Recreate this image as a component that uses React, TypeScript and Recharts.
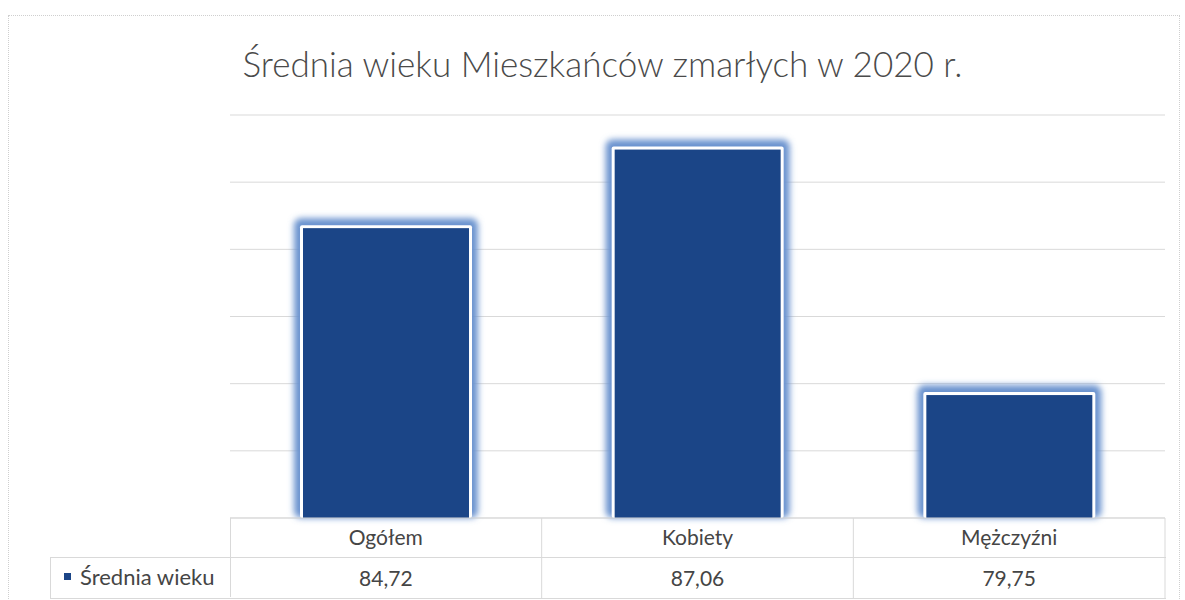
import { Bar, BarChart, CartesianGrid, XAxis, YAxis } from "recharts";

const categories = ["Ogółem", "Kobiety", "Mężczyźni"];
const values = [84.72, 87.06, 79.75];
const valueLabels = ["84,72", "87,06", "79,75"];
const yTicks = [76, 78, 80, 82, 84, 86, 88];
const seriesName = "Średnia wieku";
const title = "Średnia wieku Mieszkańców zmarłych w 2020 r.";

const data = categories.map((name, i) => ({ name, value: values[i] }));

const BAR_BLUE = "#1b4587";
const GRID = "#d9d9d9";
const TEXT = "#454545";
const FONT = "Lato, 'Open Sans', sans-serif";

// White-edged bar with a soft blue halo, like the Office "glow" effect.
function GlowBar(props: any) {
  const { x, y, width, height, index } = props;
  const id = `glow-${index}`;
  return (
    <g>
      <defs>
        <filter id={id} x="-20%" y="-20%" width="140%" height="140%">
          <feGaussianBlur stdDeviation="3" />
        </filter>
      </defs>
      <rect
        x={x - 6}
        y={y - 7}
        width={width + 12}
        height={height + 7}
        rx={7}
        fill="#6a93cf"
        filter={`url(#${id})`}
      />
      <rect x={x} y={y} width={width} height={height} fill="#ffffff" rx={2} />
      <rect x={x + 3} y={y + 3} width={width - 6} height={height - 3} fill={BAR_BLUE} />
    </g>
  );
}

// Data-table cell under each category: name in the header row, value below.
function TableTick(props: any) {
  const { x, y, payload, index } = props;
  const band = 935 / categories.length;
  return (
    <g>
      <line x1={x + band / 2} y1={518} x2={x + band / 2} y2={598} stroke={GRID} />
      <text x={x} y={545} textAnchor="middle" fontSize={21} fill={TEXT} fontFamily={FONT}>
        {payload.value}
      </text>
      <text x={x} y={586} textAnchor="middle" fontSize={21} fill={TEXT} fontFamily={FONT}>
        {valueLabels[index]}
      </text>
    </g>
  );
}

export default function App() {
  return (
    <div
      style={{
        position: "absolute",
        left: 0,
        top: 0,
        width: 1185,
        height: 600,
        background: "#fff",
        overflow: "hidden",
      }}
    >
      <div
        style={{
          position: "absolute",
          left: 8,
          top: 15,
          width: 1170,
          height: 600,
          border: "1px dotted #cfcfcf",
        }}
      />
      <div
        style={{
          position: "absolute",
          left: 0,
          top: 42,
          width: 1205,
          textAlign: "center",
          fontFamily: FONT,
          fontWeight: 300,
          fontSize: 35,
          color: "#4a4a4a",
        }}
      >
        {title}
      </div>
      <BarChart
        width={1185}
        height={600}
        data={data}
        margin={{ top: 115, right: 20, bottom: 2, left: 230 }}
        style={{ position: "absolute", left: 0, top: 0 }}
      >
        <CartesianGrid horizontal vertical={false} stroke={GRID} />
        <YAxis hide width={0} domain={[76, 88]} ticks={yTicks} />
        <XAxis
          dataKey="name"
          height={80}
          tickLine={false}
          axisLine={{ stroke: GRID }}
          tick={<TableTick />}
          interval={0}
        />
        <Bar
          dataKey="value"
          name={seriesName}
          barSize={172}
          shape={<GlowBar />}
          isAnimationActive={false}
        />
      </BarChart>
      {/* left border of the header row */}
      <div style={{ position: "absolute", left: 230, top: 518, width: 1, height: 40, background: GRID }} />
      {/* data row outline */}
      <div
        style={{
          position: "absolute",
          left: 50,
          top: 557,
          width: 1115,
          height: 40,
          borderTop: `1px solid ${GRID}`,
          borderBottom: `1px solid ${GRID}`,
          borderLeft: `1px solid ${GRID}`,
        }}
      />
      <div style={{ position: "absolute", left: 230, top: 557, width: 1, height: 40, background: GRID }} />
      <div
        style={{
          position: "absolute",
          left: 64,
          top: 563,
          fontFamily: FONT,
          fontSize: 22,
          color: TEXT,
          display: "flex",
          alignItems: "center",
          gap: 9,
        }}
      >
        <span style={{ width: 7, height: 7, background: BAR_BLUE, display: "inline-block" }} />
        {seriesName}
      </div>
    </div>
  );
}
